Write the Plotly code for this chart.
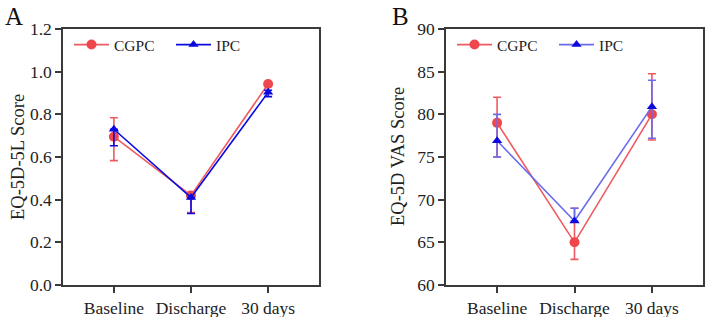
import plotly.graph_objects as go

categories = ["Baseline", "Discharge", "30 days"]

# Panel A: EQ-5D-5L
a_cgpc = [0.695, 0.42, 0.942]
a_cgpc_up = [0.089, 0.0, 0.0]
a_cgpc_dn = [0.112, 0.08, 0.0]
a_ipc = [0.73, 0.41, 0.903]
a_ipc_up = [0.0, 0.0, 0.01]
a_ipc_dn = [0.077, 0.075, 0.02]

# Panel B: EQ-5D VAS
b_cgpc = [79.0, 65.0, 80.0]
b_cgpc_up = [3.0, 4.0, 4.75]
b_cgpc_dn = [4.0, 2.0, 3.0]
b_ipc = [76.9, 67.5, 80.9]
b_ipc_up = [3.1, 1.5, 3.1]
b_ipc_dn = [1.9, 0.0, 3.7]

RED = "#F0474C"
RED_LINE = "#EE5A60"
BLUE = "#0A0AE0"
BLUE_B = "#6A6AEE"
FONT = "Liberation Serif"

W, H = 709, 317
fig = go.Figure()

def add(x, y, up, dn, name, color, lcolor, symbol, xa, ya, legend, msize):
    fig.add_trace(go.Scatter(
        x=x, y=y, name=name, mode="lines+markers",
        line=dict(color=lcolor, width=1.6),
        marker=dict(color=color, symbol=symbol, size=msize),
        error_y=dict(type="data", array=up, arrayminus=dn, symmetric=False,
                     color=lcolor, thickness=1.6, width=4),
        xaxis=xa, yaxis=ya, legend=legend,
    ))

add(categories, a_cgpc, a_cgpc_up, a_cgpc_dn, "CGPC", RED, RED_LINE, "circle", "x", "y", "legend", 10)
add(categories, a_ipc, a_ipc_up, a_ipc_dn, "IPC", BLUE, BLUE, "triangle-up", "x", "y", "legend", 9)
add(categories, b_cgpc, b_cgpc_up, b_cgpc_dn, "CGPC", RED, RED_LINE, "circle", "x2", "y2", "legend2", 10)
add(categories, b_ipc, b_ipc_up, b_ipc_dn, "IPC", BLUE, BLUE_B, "triangle-up", "x2", "y2", "legend2", 9)

ydom = [1 - 285 / H, 1 - 29 / H]
axis_common = dict(showline=True, linecolor="#3a3a3a", linewidth=1.5, mirror=True,
                   ticks="outside", ticklen=6, tickwidth=1.5, tickcolor="#3a3a3a",
                   showgrid=False, zeroline=False, automargin=False,
                   tickfont=dict(family=FONT, size=17.5, color="#222"))

ymid = 1 - 157 / H
fig.update_layout(
    width=W, height=H, margin=dict(l=0, r=0, t=0, b=0, autoexpand=False),
    paper_bgcolor="white", plot_bgcolor="white",
    font=dict(family=FONT, color="#222"),
    xaxis=dict(domain=[63 / W, 319 / W], anchor="y", type="category",
               range=[-0.66, 2.66], **axis_common),
    yaxis=dict(domain=ydom, anchor="x", range=[0, 1.2], dtick=0.2, tickformat=".1f",
               **axis_common),
    xaxis2=dict(domain=[446 / W, 703 / W], anchor="y2", type="category",
                range=[-0.66, 2.66], **axis_common),
    yaxis2=dict(domain=ydom, anchor="x2", range=[60, 90], dtick=5,
                **axis_common),
    legend=dict(x=69 / W, y=1 - 28 / H, xanchor="left", yanchor="top", orientation="h",
                bgcolor="rgba(0,0,0,0)", font=dict(family=FONT, size=15.5),
                entrywidth=52, itemwidth=35),
    legend2=dict(x=452 / W, y=1 - 28 / H, xanchor="left", yanchor="top", orientation="h",
                 bgcolor="rgba(0,0,0,0)", font=dict(family=FONT, size=15.5),
                 entrywidth=52, itemwidth=35),
    annotations=[
        dict(text="A", x=14 / W, y=1 - 16 / H, xref="paper", yref="paper",
             xanchor="center", yanchor="middle",
             showarrow=False, font=dict(family=FONT, size=25, color="#111")),
        dict(text="B", x=400 / W, y=1 - 16 / H, xref="paper", yref="paper",
             xanchor="center", yanchor="middle",
             showarrow=False, font=dict(family=FONT, size=25, color="#111")),
        dict(text="EQ-5D-5L Score", x=18 / W, y=ymid, xref="paper", yref="paper",
             xanchor="center", yanchor="middle", textangle=-90,
             showarrow=False, font=dict(family=FONT, size=18.5, color="#222")),
        dict(text="EQ-5D VAS Score", x=398 / W, y=ymid, xref="paper", yref="paper",
             xanchor="center", yanchor="middle", textangle=-90,
             showarrow=False, font=dict(family=FONT, size=18.5, color="#222")),
    ],
)

fig.write_html("out.html", config={"displayModeBar": False},
               post_script="document.body.style.margin='0';document.body.style.overflow='hidden';")
